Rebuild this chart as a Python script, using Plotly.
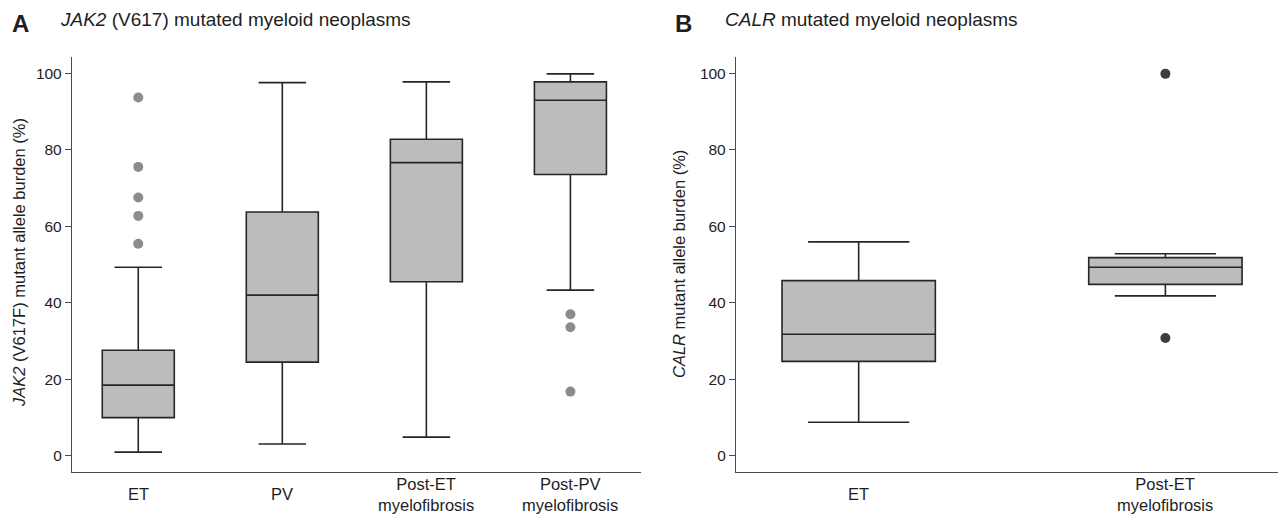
import plotly.graph_objects as go

# ---------------- data ----------------
jak2_cats = ["ET", "PV", "Post-ET myelofibrosis", "Post-PV myelofibrosis"]
jak2_labels = ["ET", "PV", "Post-ET<br>myelofibrosis", "Post-PV<br>myelofibrosis"]
jak2_low = [1.0, 3.1, 4.9, 43.3]
jak2_q1 = [10.0, 24.5, 45.5, 73.5]
jak2_med = [18.5, 42.0, 76.6, 92.9]
jak2_q3 = [27.6, 63.7, 82.7, 97.7]
jak2_high = [49.3, 97.5, 97.7, 99.8]
jak2_out_cat = ["ET", "ET", "ET", "ET", "ET",
                "Post-PV myelofibrosis", "Post-PV myelofibrosis", "Post-PV myelofibrosis"]
jak2_out_val = [93.6, 75.5, 67.5, 62.7, 55.4, 37.0, 33.6, 16.8]

calr_cats = ["ET", "Post-ET myelofibrosis"]
calr_labels = ["ET", "Post-ET<br>myelofibrosis"]
calr_low = [8.8, 41.8]
calr_q1 = [24.7, 44.8]
calr_med = [31.8, 49.3]
calr_q3 = [45.8, 51.8]
calr_high = [55.9, 52.8]
calr_out_cat = ["Post-ET myelofibrosis", "Post-ET myelofibrosis"]
calr_out_val = [99.8, 30.8]

y_ticks = [0, 20, 40, 60, 80, 100]

# ---------------- style ----------------
W, H = 1286, 518
OFF = 8  # page body margin
FONT = "Liberation Sans, Arial, Helvetica, sans-serif"
TXT = "#1e1e1e"
BOX_FILL = "#bbbcbe"
BOX_LINE = "#262626"
AXIS = "#4a4a4a"
LBL = 16.5


def px_x(p):
    return (p - OFF) / W


def px_y(p):
    return 1 - (p - OFF) / H


fig = go.Figure()

fig.add_trace(go.Box(
    x=jak2_cats, q1=jak2_q1, median=jak2_med, q3=jak2_q3,
    lowerfence=jak2_low, upperfence=jak2_high,
    boxpoints=False, fillcolor=BOX_FILL,
    line=dict(color=BOX_LINE, width=1.6),
    width=0.5, whiskerwidth=0.66, xaxis="x", yaxis="y",
    showlegend=False, hoverinfo="skip"))
fig.add_trace(go.Scatter(
    x=jak2_out_cat, y=jak2_out_val, mode="markers",
    marker=dict(color="#8c8c8e", size=10),
    xaxis="x", yaxis="y", showlegend=False, hoverinfo="skip"))

fig.add_trace(go.Box(
    x=calr_cats, q1=calr_q1, median=calr_med, q3=calr_q3,
    lowerfence=calr_low, upperfence=calr_high,
    boxpoints=False, fillcolor=BOX_FILL,
    line=dict(color=BOX_LINE, width=1.6),
    width=0.5, whiskerwidth=0.66, xaxis="x2", yaxis="y2",
    showlegend=False, hoverinfo="skip"))
fig.add_trace(go.Scatter(
    x=calr_out_cat, y=calr_out_val, mode="markers",
    marker=dict(color="#3c3c3c", size=10),
    xaxis="x2", yaxis="y2", showlegend=False, hoverinfo="skip"))

ydom = [px_y(472), px_y(57)]

xcommon = dict(type="category", showgrid=False, zeroline=False,
               showline=True, linecolor=AXIS, linewidth=1.3,
               ticks="", showticklabels=False, fixedrange=True)
ycommon = dict(range=[-4.2, 104.2], showgrid=False, zeroline=False,
               showline=True, linecolor=AXIS, linewidth=1.3,
               ticks="outside", ticklen=6, tickwidth=1.2, tickcolor=AXIS,
               tickvals=y_ticks, ticktext=[str(v) for v in y_ticks],
               tickfont=dict(family=FONT, size=15.5, color=TXT),
               automargin=False, domain=ydom)

fig.update_layout(
    width=W, height=H,
    margin=dict(l=0, r=0, t=0, b=0),
    paper_bgcolor="white", plot_bgcolor="white",
    xaxis=dict(xcommon, domain=[px_x(72), px_x(641)],
               categoryorder="array", categoryarray=jak2_cats,
               range=[-0.46, 3.49], anchor="y"),
    yaxis=dict(ycommon, anchor="x"),
    xaxis2=dict(xcommon, domain=[px_x(736), px_x(1285)],
                categoryorder="array", categoryarray=calr_cats,
                range=[-0.40, 1.39], anchor="y2"),
    yaxis2=dict(ycommon, anchor="x2"),
)

ann = []
# category labels (vertically centered like the reference)
for c, lab in zip(jak2_cats, jak2_labels):
    ann.append(dict(x=c, xref="x", y=px_y(494), yref="paper",
                    text=lab, showarrow=False, xanchor="center",
                    yanchor="middle", align="center",
                    font=dict(family=FONT, size=LBL, color=TXT)))
for c, lab in zip(calr_cats, calr_labels):
    ann.append(dict(x=c, xref="x2", y=px_y(494), yref="paper",
                    text=lab, showarrow=False, xanchor="center",
                    yanchor="middle", align="center",
                    font=dict(family=FONT, size=LBL, color=TXT)))

# panel letters and titles
ann += [
    dict(x=px_x(10), y=px_y(23), xref="paper", yref="paper", text="<b>A</b>",
         showarrow=False, xanchor="left", yanchor="middle",
         font=dict(family=FONT, size=24, color=TXT)),
    dict(x=px_x(58), y=px_y(20), xref="paper", yref="paper",
         text="<i>JAK2</i> (V617) mutated myeloid neoplasms",
         showarrow=False, xanchor="left", yanchor="middle",
         font=dict(family=FONT, size=19, color=TXT)),
    dict(x=px_x(673), y=px_y(23), xref="paper", yref="paper", text="<b>B</b>",
         showarrow=False, xanchor="left", yanchor="middle",
         font=dict(family=FONT, size=24, color=TXT)),
    dict(x=px_x(723), y=px_y(20), xref="paper", yref="paper",
         text="<i>CALR</i> mutated myeloid neoplasms",
         showarrow=False, xanchor="left", yanchor="middle",
         font=dict(family=FONT, size=19, color=TXT)),
    dict(x=px_x(19), y=px_y(263), xref="paper", yref="paper",
         text="<i>JAK2</i> (V617F) mutant allele burden (%)",
         showarrow=False, textangle=-90, xanchor="center", yanchor="middle",
         font=dict(family=FONT, size=LBL, color=TXT)),
    dict(x=px_x(679), y=px_y(264), xref="paper", yref="paper",
         text="<i>CALR</i> mutant allele burden (%)",
         showarrow=False, textangle=-90, xanchor="center", yanchor="middle",
         font=dict(family=FONT, size=LBL, color=TXT)),
]
fig.update_layout(annotations=ann)

fig.write_html("out.html")
